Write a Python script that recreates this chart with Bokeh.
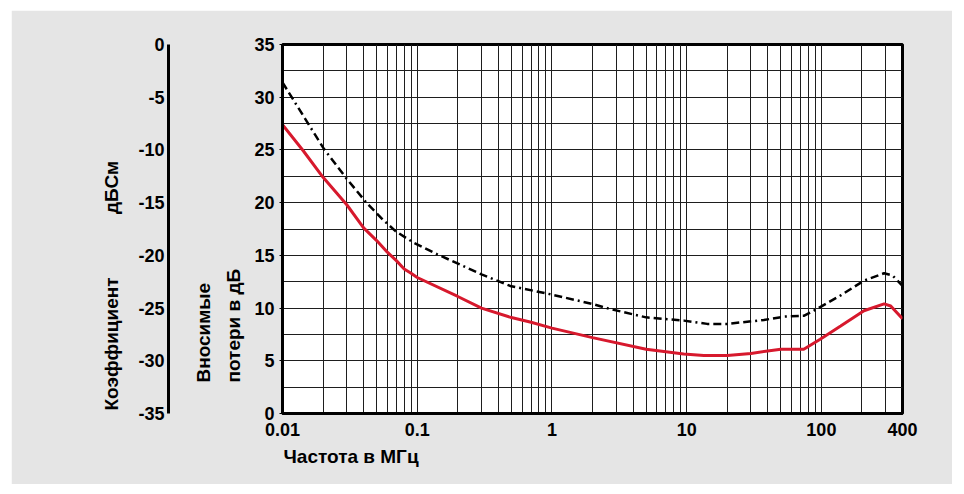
from bokeh.plotting import figure
from bokeh.layouts import column, row
from bokeh.models import LinearAxis, Range1d, FixedTicker, Title, Spacer
from bokeh.embed import file_html
from bokeh.resources import INLINE

# ---- data ----
freq_red = [0.01, 0.0143, 0.02, 0.03, 0.04, 0.05, 0.06, 0.07, 0.08, 0.09, 0.1,
            0.2, 0.3, 0.5, 0.7, 1, 2, 5, 9.5, 13.4, 20, 30, 50, 74, 98, 139,
            207, 292, 327, 400]
loss_red = [27.4, 24.9, 22.4, 19.8, 17.6, 16.4, 15.3, 14.5, 13.7, 13.3, 12.9,
            11.1, 10.0, 9.1, 8.65, 8.1, 7.2, 6.1, 5.65, 5.5, 5.5, 5.7, 6.1, 6.1,
            7.05, 8.3, 9.75, 10.4, 10.2, 9.0]

freq_black = [0.01, 0.0203, 0.0294, 0.0426, 0.0565, 0.069, 0.094, 0.141, 0.3,
              0.49, 0.98, 1.98, 2.72, 5, 9.55, 14.2, 20, 37.4, 53, 74.6, 88,
              139, 207, 292, 337, 400]
loss_black = [31.4, 25.1, 22.4, 19.9, 18.3, 17.3, 16.2, 15.1, 13.2, 12.1, 11.3,
              10.4, 9.9, 9.12, 8.81, 8.5, 8.5, 8.87, 9.19, 9.28, 9.76, 11.2,
              12.6, 13.3, 13.1, 12.1]

x_ticks = [0.01, 0.1, 1, 10, 100, 400]
x_tick_labels = ["0.01", "0.1", "1", "10", "100", "400"]
x_minor = [m * d for d in (0.01, 0.1, 1, 10) for m in range(2, 10)] + [200, 300]
y_ticks = [0, 5, 10, 15, 20, 25, 30, 35]
y_minor = [2.5, 7.5, 12.5, 17.5, 22.5, 27.5, 32.5]
refl_ticks = [-35, -30, -25, -20, -15, -10, -5, 0]
refl_tick_labels = ["-35", "-30", "-25", "-20", "-15", "-10", "-5", "0"]

x_title = "Частота в МГц"
loss_title = ["Вносимые", "потери в дБ"]
refl_title = ["Коэффициент", "дБСм"]

FONT = "Liberation Sans"
BG = "#e5e5e5"
GRID = "#1e1e1e"

p = figure(width=941, height=474, x_axis_type="log", x_range=Range1d(0.01, 400),
           y_range=Range1d(0, 35), output_backend="svg", toolbar_location=None,
           min_border_left=271, min_border_right=50, min_border_top=34,
           min_border_bottom=71, background_fill_color="white",
           border_fill_color=BG, outline_line_color="black", outline_line_width=3)

# x axis
xa = p.xaxis[0]
xa.ticker = FixedTicker(ticks=x_ticks, minor_ticks=x_minor)
xa.major_label_overrides = dict(zip(x_ticks, x_tick_labels))
xa.major_tick_line_color = None
xa.minor_tick_line_color = None
xa.major_tick_out = 0
xa.major_label_standoff = 5
xa.axis_line_width = 3
xa.axis_line_color = "black"

# main y axis
ya = p.yaxis[0]
ya.ticker = FixedTicker(ticks=y_ticks, minor_ticks=y_minor)
ya.major_tick_out = 3
ya.major_tick_in = 0
ya.major_tick_line_color = "black"
ya.minor_tick_line_color = None
ya.major_label_standoff = 4
ya.axis_line_width = 3
ya.axis_line_color = "black"

for ax in (xa, ya):
    ax.major_label_text_font = FONT
    ax.major_label_text_font_style = "bold"
    ax.major_label_text_font_size = "18px"
    ax.major_label_text_color = "black"

for g in (p.xgrid[0], p.ygrid[0]):
    g.grid_line_color = GRID
    g.grid_line_width = 1
    g.minor_grid_line_color = GRID
    g.minor_grid_line_width = 1


def title(text, side, offset, standoff):
    t = Title(text=text, align="left", offset=offset, standoff=standoff,
              text_font=FONT, text_font_style="bold", text_font_size="19px",
              text_color="black")
    p.add_layout(t, side)


# left side, from the frame outward
title(loss_title[1], "left", 31, 15)
title(loss_title[0], "left", 31, 0)

# invisible spacer (a single tick drawn in the background colour)
spacer = LinearAxis(ticker=FixedTicker(ticks=[0]), axis_line_color=None,
                    major_tick_line_color=BG, minor_tick_line_color=None,
                    major_tick_out=22, major_tick_in=0, minor_tick_out=0,
                    minor_tick_in=0, major_label_standoff=0,
                    major_label_text_color=None, major_label_text_font_size="1px")
p.add_layout(spacer, "left")

p.extra_y_ranges = {"refl": Range1d(-35, 0)}
ra = LinearAxis(y_range_name="refl", ticker=FixedTicker(ticks=refl_ticks),
                major_label_overrides=dict(zip(refl_ticks, refl_tick_labels)),
                major_tick_out=0, major_tick_in=0, minor_tick_out=0, minor_tick_in=0,
                major_tick_line_color=None, minor_tick_line_color=None,
                axis_line_width=3, axis_line_color="black", major_label_standoff=4,
                major_label_text_font=FONT, major_label_text_font_style="bold",
                major_label_text_font_size="18px", major_label_text_color="black")
p.add_layout(ra, "left")

title(refl_title[0] + "\u00a0" * 12 + refl_title[1], "left", 3, 28)

# bottom title
title(x_title, "below", 1, 11)

# curves
p.line(freq_black, loss_black, line_color="black", line_width=2.5,
       line_dash="8 4 8 4 2 4")
p.line(freq_red, loss_red, line_color="#d7192d", line_width=3)

layout = column(Spacer(height=10), row(Spacer(width=11), p))

open("out.html", "w").write(file_html(layout, INLINE))
